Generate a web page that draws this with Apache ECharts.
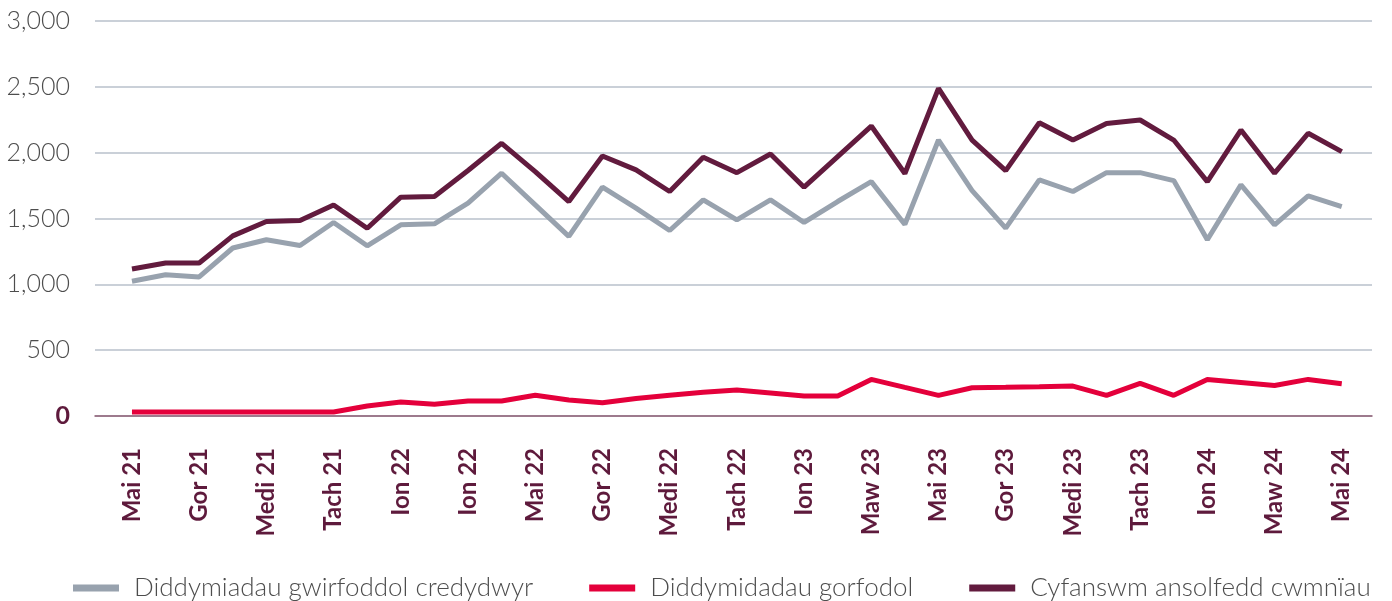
<!DOCTYPE html>
<html>
<head>
<meta charset="utf-8">
<script src="https://cdn.jsdelivr.net/npm/echarts@6/dist/echarts.min.js"></script>
<style>
  html, body { margin: 0; padding: 0; background: #fff; }
  #chart { width: 1392px; height: 601px; }
</style>
</head>
<body>
<div id="chart"></div>
<script>
// x positions are month indexes 0..36 (Mai 21 .. Mai 24), labels every 2 months
var tickLabels = ['Mai 21', 'Gor 21', 'Medi 21', 'Tach 21', 'Ion 22', 'Ion 22', 'Mai 22', 'Gor 22', 'Medi 22', 'Tach 22',
    'Ion 23', 'Maw 23', 'Mai 23', 'Gor 23', 'Medi 23', 'Tach 23', 'Ion 24', 'Maw 24', 'Mai 24'];

var seriesNames = ['Diddymiadau gwirfoddol credydwyr', 'Diddymidadau gorfodol', 'Cyfanswm ansolfedd cwmnïau'];

var voluntary = [1023, 1073, 1056, 1276, 1339, 1295, 1470, 1293, 1452, 1460,
    1617, 1844, 1604, 1364, 1738, 1579, 1409, 1642, 1490, 1642,
    1470, 1629, 1780, 1455, 2096, 1712, 1427, 1793, 1705, 1848,
    1848, 1788, 1339, 1755, 1452, 1672, 1591];

var compulsory = [30, 30, 30, 30, 30, 30, 30, 76, 106, 89,
    114, 114, 157, 121, 101, 133, 157, 180, 197, 175,
    152, 152, 278, 217, 157, 215, 218, 222, 227, 157,
    248, 157, 278, 255, 232, 278, 245];

var total = [1117, 1162, 1162, 1368, 1477, 1484, 1603, 1426, 1662, 1667,
    1865, 2071, 1856, 1629, 1975, 1869, 1705, 1965, 1848, 1990,
    1738, 1970, 2202, 1842, 2488, 2096, 1864, 2227, 2096, 2222,
    2248, 2096, 1780, 2172, 1844, 2147, 2008];

var colors = ['#98a2ae', '#e4003b', '#621b3e'];

function toPairs(arr) {
    var out = [];
    for (var i = 0; i < arr.length; i++) {
        out.push([i, arr[i]]);
    }
    return out;
}

var labelPos = [];
for (var k = 0; k < tickLabels.length; k++) {
    labelPos.push(k * 2);
}

var myChart = echarts.init(document.getElementById('chart'));

var option = {
    animation: false,
    color: colors,
    textStyle: { fontFamily: 'Lato' },
    grid: {
        left: 95,
        right: 20,
        top: 21,
        bottom: 185,
        containLabel: false
    },
    legend: {
        left: 68,
        bottom: -5,
        itemWidth: 46,
        itemHeight: 7,
        itemGap: 56,
        icon: 'rect',
        textStyle: {
            fontFamily: 'Lato',
            fontWeight: 300,
            fontSize: 26,
            color: '#4d4d4d',
            padding: [0, 0, 0, 10]
        },
        data: seriesNames
    },
    xAxis: {
        type: 'value',
        min: -1.1,
        max: 36.9,
        splitLine: { show: false },
        axisTick: { show: false },
        axisLine: {
            show: true,
            lineStyle: { color: '#8e5d74', width: 1.5 }
        },
        axisLabel: {
            customValues: labelPos,
            rotate: 90,
            margin: 32,
            fontFamily: 'Lato',
            fontWeight: 'bold',
            fontSize: 24,
            color: '#5e1a3c',
            formatter: function (v) {
                return tickLabels[Math.round(v / 2)];
            }
        }
    },
    yAxis: {
        type: 'value',
        min: 0,
        max: 3000,
        interval: 500,
        axisLine: { show: false },
        axisTick: { show: false },
        splitLine: {
            lineStyle: { color: '#b9c0cb', width: 1.5 }
        },
        axisLabel: {
            margin: 25,
            fontFamily: 'Lato',
            fontWeight: 300,
            fontSize: 25,
            color: '#4d4d4d',
            formatter: function (v) {
                if (v === 0) return '{z|0}';
                return v.toLocaleString('en-US');
            },
            rich: {
                z: {
                    fontFamily: 'Lato',
                    fontWeight: 'bold',
                    fontSize: 25,
                    color: '#5e1a3c'
                }
            }
        }
    },
    series: [
        {
            name: seriesNames[0],
            type: 'line',
            symbol: 'none',
            lineStyle: { width: 5 },
            data: toPairs(voluntary)
        },
        {
            name: seriesNames[1],
            type: 'line',
            symbol: 'none',
            lineStyle: { width: 5 },
            data: toPairs(compulsory)
        },
        {
            name: seriesNames[2],
            type: 'line',
            symbol: 'none',
            lineStyle: { width: 5 },
            data: toPairs(total)
        }
    ]
};

myChart.setOption(option);
window.addEventListener('resize', function () {
    myChart.resize();
});
</script>
</body>
</html>
